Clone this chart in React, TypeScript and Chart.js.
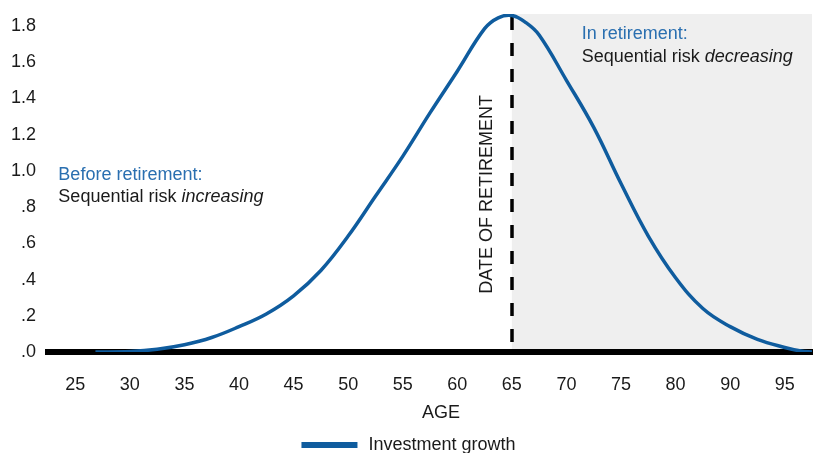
import React, { useEffect, useRef } from 'react';
import { Chart, registerables } from 'chart.js';

Chart.register(...registerables);

// Axis categories (age); note 85 is not on the axis
const ageLabels = ['25', '30', '35', '40', '45', '50', '55', '60', '65', '70', '75', '80', '90', '95'];
const yTickValues = [0, 0.2, 0.4, 0.6, 0.8, 1.0, 1.2, 1.4, 1.6, 1.8];
const yTickLabels = ['.0', '.2', '.4', '.6', '.8', '1.0', '1.2', '1.4', '1.6', '1.8'];

// Curve: position along the age axis (category index, fractional) and value
const curvePos = [0.37, 1.0, 1.5, 2.0, 2.5, 3.0, 3.5, 4.0, 4.5, 5.0, 5.5, 6.0, 6.5, 7.0, 7.5, 7.75, 8.0, 8.25, 8.5, 9.0, 9.5, 10.0, 10.5, 11.0, 11.5, 12.0, 12.5, 13.0, 13.3, 13.5];
const curveValue = [0, 0.003, 0.015, 0.04, 0.08, 0.14, 0.21, 0.31, 0.45, 0.64, 0.86, 1.08, 1.32, 1.55, 1.785, 1.845, 1.858, 1.82, 1.75, 1.5, 1.24, 0.93, 0.64, 0.41, 0.24, 0.14, 0.07, 0.025, 0.005, 0];

const seriesName = 'Investment growth';
const retirementAge = '65';
const retireText = 'DATE OF RETIREMENT';
const beforeTitle = 'Before retirement:';
const beforeText = ['Sequential risk ', 'increasing'];
const afterTitle = 'In retirement:';
const afterText = ['Sequential risk ', 'decreasing'];
const axisTitle = 'AGE';

const FONT = '"Liberation Sans", Arial, sans-serif';
const BLUE = '#0f5c9e';
const TEXT_BLUE = '#2a6fb0';
const DARK = '#1a1a1a';

const zonePlugin = {
  id: 'retirementZone',
  beforeDraw(chart: any) {
    const { ctx, chartArea, scales } = chart;
    const x = scales.x;
    const y = scales.y;
    const retirePos = ageLabels.indexOf(retirementAge);
    const rx = x.getPixelForValue(retirePos);
    ctx.save();
    ctx.fillStyle = '#efefef';
    ctx.fillRect(rx, chartArea.top, chartArea.right - rx, y.getPixelForValue(0) - chartArea.top);
    ctx.restore();
  },
  beforeDatasetsDraw(chart: any) {
    const { ctx, chartArea, scales } = chart;
    const x = scales.x;
    const y = scales.y;
    const retirePos = ageLabels.indexOf(retirementAge);
    const rx = Math.round(x.getPixelForValue(retirePos));
    ctx.save();
    ctx.strokeStyle = '#000';
    ctx.lineWidth = 3.5;
    ctx.setLineDash([13, 13]);
    ctx.beginPath();
    ctx.moveTo(rx, chartArea.top + 3);
    ctx.lineTo(rx, y.getPixelForValue(0));
    ctx.stroke();
    ctx.restore();
  },
  afterDatasetsDraw(chart: any) {
    const { ctx, scales, chartArea } = chart;
    const x = scales.x;
    const y = scales.y;
    ctx.save();
    ctx.textBaseline = 'middle';
    ctx.textAlign = 'left';

    const drawMixed = (px: number, py: number, parts: string[]) => {
      ctx.fillStyle = DARK;
      ctx.font = `18px ${FONT}`;
      ctx.fillText(parts[0], px, py);
      const w = ctx.measureText(parts[0]).width;
      ctx.font = `italic 18px ${FONT}`;
      ctx.fillText(parts[1], px + w, py);
    };

    // Before retirement
    let px = x.getPixelForValue(-0.31);
    ctx.fillStyle = TEXT_BLUE;
    ctx.font = `18px ${FONT}`;
    ctx.fillText(beforeTitle, px, y.getPixelForValue(0.977));
    drawMixed(px, y.getPixelForValue(0.856), beforeText);

    // In retirement
    px = x.getPixelForValue(9.28);
    ctx.fillStyle = TEXT_BLUE;
    ctx.font = `18px ${FONT}`;
    ctx.fillText(afterTitle, px, y.getPixelForValue(1.755));
    drawMixed(px, y.getPixelForValue(1.63), afterText);

    // Axis title
    ctx.textAlign = 'center';
    ctx.fillStyle = DARK;
    ctx.font = `18px ${FONT}`;
    ctx.fillText(axisTitle, (chartArea.left + chartArea.right) / 2 + 11, x.bottom - 15);

    // Legend
    ctx.font = `18px ${FONT}`;
    const tw = ctx.measureText(seriesName).width;
    const total = 56 + 11 + tw;
    const lx = (chart.width - total) / 2 + 2;
    const ly = chart.height - 8;
    ctx.fillStyle = BLUE;
    ctx.fillRect(lx, ly - 3, 56, 6);
    ctx.fillStyle = DARK;
    ctx.textAlign = 'left';
    ctx.fillText(seriesName, lx + 67, ly);

    // Rotated label
    ctx.translate(x.getPixelForValue(7.55), y.getPixelForValue(0.87));
    ctx.rotate(-Math.PI / 2);
    ctx.textAlign = 'center';
    ctx.fillStyle = DARK;
    ctx.font = `18px ${FONT}`;
    ctx.fillText(retireText, 0, 0);
    ctx.restore();
  },
};

export default function App() {
  const ref = useRef<HTMLCanvasElement | null>(null);

  useEffect(() => {
    if (!ref.current) return;
    const data = curvePos.map((p, i) => ({ x: p, y: curveValue[i] }));
    const chart = new Chart(ref.current, {
      type: 'line',
      data: {
        datasets: [
          {
            label: seriesName,
            data,
            borderColor: BLUE,
            backgroundColor: BLUE,
            borderWidth: 3.5,
            pointRadius: 0,
            tension: 0.4,
            fill: false,
          },
        ],
      },
      options: {
        responsive: false,
        animation: false,
        layout: { padding: { top: 14, right: 1, left: 0, bottom: 25 } },
        plugins: {
          tooltip: { enabled: false },
          legend: { display: false },
        },
        scales: {
          x: {
            type: 'linear',
            min: -0.5,
            max: ageLabels.length - 0.5,
            afterBuildTicks: (scale: any) => {
              scale.ticks = ageLabels.map((_, i) => ({ value: i }));
            },
            afterFit: (scale: any) => {
              scale.height = 76;
              scale.paddingLeft = 0;
              scale.paddingRight = 0;
            },
            grid: { display: false, drawTicks: false },
            border: { display: true, color: '#000', width: 6 },
            ticks: {
              padding: 22,
              color: DARK,
              font: { family: FONT, size: 18 },
              autoSkip: false,
              maxRotation: 0,
              callback: (v: any) => ageLabels[Math.round(Number(v))] ?? '',
            },
            title: { display: false },
          },
          y: {
            type: 'linear',
            min: 0,
            max: 1.866,
            afterBuildTicks: (scale: any) => {
              scale.ticks = yTickValues.map((v) => ({ value: v }));
            },
            afterFit: (scale: any) => {
              scale.width = 48;
              scale.paddingTop = 0;
              scale.paddingBottom = 0;
            },
            grid: { display: false, drawTicks: false },
            border: { display: false },
            ticks: {
              padding: 12,
              color: DARK,
              font: { family: FONT, size: 18 },
              callback: (v: any) => {
                const i = yTickValues.findIndex((t) => Math.abs(t - Number(v)) < 1e-6);
                return i >= 0 ? yTickLabels[i] : '';
              },
            },
          },
        },
      },
      plugins: [zonePlugin],
    } as any);
    return () => chart.destroy();
  }, []);

  return (
    <div style={{ position: 'absolute', left: 0, top: 0, width: 813, height: 453, background: '#fff' }}>
      <canvas ref={ref} width={813} height={453} />
    </div>
  );
}
